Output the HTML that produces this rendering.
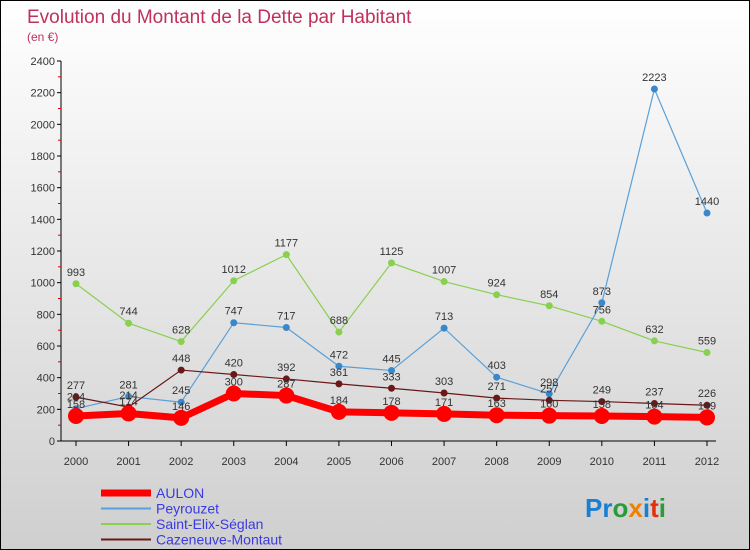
<!DOCTYPE html>
<html><head><meta charset="utf-8"><style>
body{margin:0;width:750px;height:550px;overflow:hidden}
#w{position:relative;width:748px;height:548px;border:1px solid #000;background:linear-gradient(#ffffff,#cfcfcf)}
svg{position:absolute;left:0;top:0}
text{font-family:"Liberation Sans",sans-serif}
</style></head><body>
<div id="w">
<svg id="s" width="748" height="548">
<text x="26" y="22" font-size="19" fill="#c0305a">Evolution du Montant de la Dette par Habitant</text>
<text x="26" y="40" font-size="12" fill="#c0305a">(en €)</text>
<g id="g"></g>
<text x="584" y="516" font-size="26" font-weight="bold"><tspan fill="#1a7fd0">Pr</tspan><tspan fill="#2a9a3a">o</tspan><tspan fill="#f08000">x</tspan><tspan fill="#1a7fd0">i</tspan><tspan fill="#e03010">t</tspan><tspan fill="#2a9a3a">i</tspan></text>
</svg></div>
<script>
const years=[2000,2001,2002,2003,2004,2005,2006,2007,2008,2009,2010,2011,2012];
const yTicks=[0,200,400,600,800,1000,1200,1400,1600,1800,2000,2200,2400];
const aulon=[158,174,146,300,287,184,178,171,163,160,158,154,149];
const peyrouzet=[204,281,245,747,717,472,445,713,403,298,873,2223,1440];
const saintElix=[993,744,628,1012,1177,688,1125,1007,924,854,756,632,559];
const cazeneuve=[277,214,448,420,392,361,333,303,271,257,249,237,226];
const NS="http://www.w3.org/2000/svg";
const g=document.getElementById('g');
const X=i=>75+i*(706-75)/12;
const Y=v=>440-v*380/2400;
function mk(t,a,p){const e=document.createElementNS(NS,t);for(const k in a)e.setAttribute(k,a[k]);(p||g).appendChild(e);return e;}
let ax=mk('line',{x1:60,y1:60,x2:60,y2:440,stroke:'#000'});


let bx=mk('line',{x1:60,y1:440,x2:715,y2:440,stroke:'#000'});


yTicks.forEach(v=>{
 mk('line',{x1:56,y1:Y(v),x2:60,y2:Y(v),stroke:'#000'});
 if(v<2400)mk('line',{x1:57,y1:Y(v+100),x2:60,y2:Y(v+100),stroke:'#e00000'});
 const t=mk('text',{x:54,y:Y(v)+4,'font-size':11,'text-anchor':'end',fill:'#333'});t.textContent=v;
 
 
});
years.forEach((y,i)=>{
 mk('line',{x1:X(i),y1:440,x2:X(i),y2:445,stroke:'#000'});
 const t=mk('text',{x:X(i),y:464,'font-size':11,'text-anchor':'middle',fill:'#333'});t.textContent=y;
 
 
});
const series=[
 {n:'saint-elix-seglan',d:saintElix,c:'#88d050',w:1.2,r:3.5,f:'#88d050'},
 {n:'peyrouzet',d:peyrouzet,c:'#5aa0d8',w:1.2,r:3.5,f:'#3a88cc'},
 {n:'cazeneuve-montaut',d:cazeneuve,c:'#6a1818',w:1.2,r:3.5,f:'#6a1818'},
 {n:'aulon',d:aulon,c:'#ff0000',w:7,r:8,f:'#ff0000'}];
series.forEach(s=>{
 const p=mk('polyline',{points:s.d.map((v,i)=>X(i)+','+Y(v)).join(' '),fill:'none',stroke:s.c,'stroke-width':s.w});
 
 
 s.d.forEach((v,i)=>{
  const c=mk('circle',{cx:X(i),cy:Y(v),r:s.r,fill:s.f});
  
  
 });
});
series.forEach(s=>{s.d.forEach((v,i)=>{
 const t=mk('text',{x:X(i),y:Y(v)-8,'font-size':11,'text-anchor':'middle',fill:'#333'});t.textContent=v;
 
 
});});
const leg=[['AULON','#ff0000',7],['Peyrouzet','#5aa0d8',2],['Saint-Elix-Séglan','#88d050',2],['Cazeneuve-Montaut','#6a1818',2]];
leg.forEach((l,i)=>{
 const y=492+i*15.5;
 const ln=mk('line',{x1:100,y1:y,x2:150,y2:y,stroke:l[1],'stroke-width':l[2]});
 
 
 const t=mk('text',{x:155,y:y+5,'font-size':14,fill:'#3a3ae0'});t.textContent=l[0];
 
 
});
</script>
</body></html>
